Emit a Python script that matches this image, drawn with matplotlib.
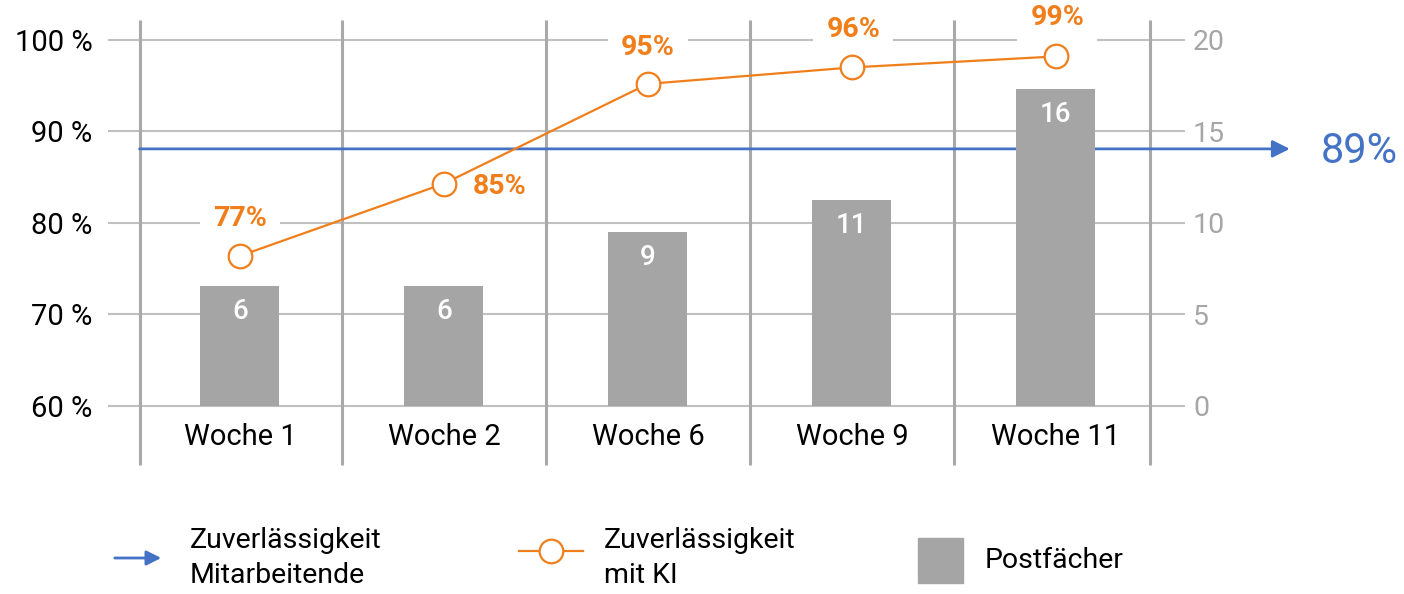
import matplotlib
matplotlib.use("Agg")
import matplotlib.pyplot as plt
import matplotlib.transforms as mtransforms
from matplotlib.patches import Rectangle, FancyArrowPatch
from matplotlib.lines import Line2D

weeks = ["Woche 1", "Woche 2", "Woche 6", "Woche 9", "Woche 11"]
postfaecher = [6.55, 6.55, 9.5, 11.25, 17.3]
postfaecher_labels = ["6", "6", "9", "11", "16"]
ki = [76.4, 84.3, 95.2, 97.0, 98.2]
ki_labels = ["77%", "85%", "95%", "96%", "99%"]
mitarbeitende = 88.1
mitarbeitende_label = "89%"
pct_ticks = [60, 70, 80, 90, 100]
count_ticks = [0, 5, 10, 15, 20]

plt.rcParams['font.family'] = ['Roboto', 'DejaVu Sans']

orange = '#F07F1B'
blue = '#4472C4'
grey_bar = '#A5A5A5'
grid_c = '#C0C0C0'
vline_c = '#A9A9A9'

fig = plt.figure(figsize=(14.04, 5.94), dpi=100)
ax = fig.add_axes([0.0994, 0.3165, 0.7196, 0.6162])
ax2 = ax.twinx()
x = list(range(len(weeks)))

x0, x1 = -0.492, 4.461
ax.set_xlim(x0, x1)
ax.set_ylim(0, 20)
ax2.set_ylim(60, 100)
for a in (ax, ax2):
    for s in a.spines.values():
        s.set_visible(False)

# count scale on the right, percent scale on the left
ax.set_yticks(count_ticks)
ax.yaxis.tick_right()
ax.tick_params(axis='y', length=0, pad=31, labelsize=20.5, labelcolor='#A6A6A6')
ax2.set_yticks(pct_ticks)
ax2.set_yticklabels(['%d %%' % p for p in pct_ticks])
ax2.yaxis.tick_left()
ax2.tick_params(axis='y', length=0, pad=34, labelsize=21, labelcolor='black')
ax.set_xticks(x)
ax.set_xticklabels(weeks)
ax.tick_params(axis='x', length=0, pad=12, labelsize=21)

# grid lines, running out past the axes
ax.hlines(count_ticks, -0.647, 4.632, colors=grid_c, lw=1.5, clip_on=False, zorder=0.5)
bounds = [x0] + [i + 0.5 for i in range(len(weeks) - 1)] + [x1]
ax.vlines(bounds, -0.161, 1.055, transform=ax.get_xaxis_transform(),
          colors=vline_c, lw=2.2, clip_on=False, zorder=0.6)

# employee reliability line with arrow
trans = mtransforms.blended_transform_factory(ax.transData, ax2.transData)
ax.annotate('', xy=(5.147, mitarbeitende), xytext=(x0, mitarbeitende),
            xycoords=trans, textcoords=trans, annotation_clip=False, zorder=1,
            arrowprops=dict(arrowstyle='-|>', color=blue, lw=2,
                            mutation_scale=26, shrinkA=0, shrinkB=0))
ax.annotate(mitarbeitende_label, xy=(5.147, mitarbeitende), xycoords=trans,
            xytext=(22, -2), textcoords='offset points', ha='left', va='center',
            color=blue, fontsize=30, annotation_clip=False)

# bars
ax.bar(x, postfaecher, width=0.387, color=grey_bar, zorder=2)
for i, v in enumerate(postfaecher):
    ax.annotate(postfaecher_labels[i], xy=(i, v), xytext=(0, -18),
                textcoords='offset points', ha='center', va='center',
                color='white', fontsize=20, fontweight='medium', zorder=3)

# KI line
ax2.plot(x, ki, color=orange, lw=1.6, marker='o', ms=17, mfc='white',
         mec=orange, mew=1.6, zorder=4, clip_on=False)
offsets = [(0, 27), (40, -2), (0, 26), (1, 27), (1, 28)]
for i, v in enumerate(ki):
    ax2.annotate(ki_labels[i], xy=(i, v), xytext=offsets[i],
                 textcoords='offset points', ha='center', va='center',
                 color=orange, fontsize=20.5, fontweight='bold', zorder=3,
                 annotation_clip=False,
                 bbox=dict(boxstyle='square,pad=0.45', fc='white', ec='none'))

# legend, drawn by hand
ly = 1 - 558 / 594
fig.add_artist(FancyArrowPatch(
    (112 / 1404, ly), (164 / 1404, ly), transform=fig.transFigure,
    arrowstyle='-|>', color=blue, lw=2, mutation_scale=22))
fig.text(190 / 1404, ly, 'Zuverlässigkeit\nMitarbeitende', fontsize=20.5,
         va='center', ha='left', linespacing=1.4)
oy = 1 - 551 / 594
fig.add_artist(Line2D([519 / 1404, 583 / 1404], [oy, oy], transform=fig.transFigure,
                      color=orange, lw=1.6))
fig.add_artist(Line2D([551 / 1404], [oy], transform=fig.transFigure, marker='o',
                      ms=17, mfc='white', mec=orange, mew=1.6))
fig.text(604 / 1404, ly, 'Zuverlässigkeit\nmit KI', fontsize=20.5,
         va='center', ha='left', linespacing=1.4)
fig.add_artist(Rectangle((918 / 1404, 1 - 583 / 594), 45 / 1404, 45 / 594,
                         transform=fig.transFigure, color=grey_bar))
fig.text(985 / 1404, 1 - 560 / 594, 'Postfächer', fontsize=20.5, va='center', ha='left')

fig.savefig('out.png', dpi=100)
